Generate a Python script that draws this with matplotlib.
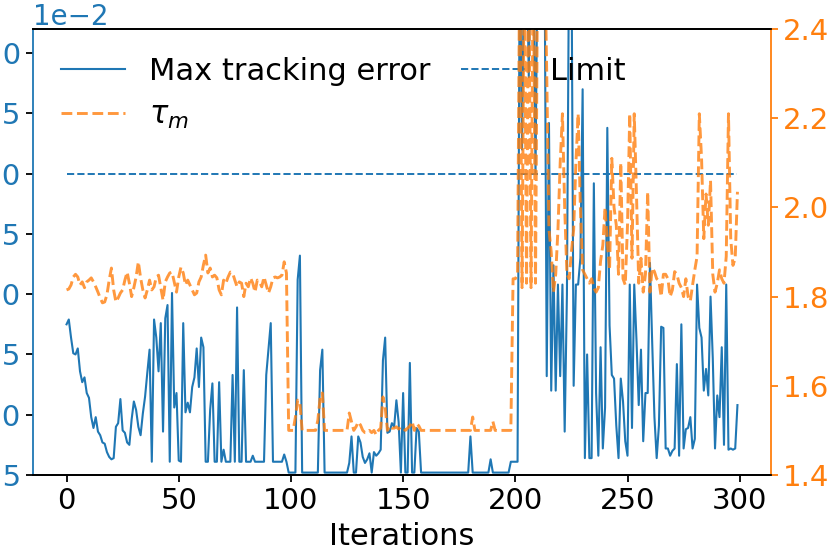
import matplotlib
matplotlib.use("Agg")
import matplotlib.pyplot as plt
import numpy as np

# max tracking error per iteration, in units of 1e-2 (values above 4.2 are off the chart)
TRACK_ERR_E2 = [
    1.75, 1.79, 1.64, 1.51, 1.50, 1.55, 1.36, 1.27, 1.31, 1.18,
    1.14, 0.98, 0.89, 0.98, 0.86, 0.83, 0.77, 0.76, 0.69, 0.65,
    0.63, 0.64, 0.90, 0.93, 1.13, 0.87, 0.85, 0.77, 0.75, 0.96,
    1.11, 1.04, 0.90, 0.83, 1.01, 1.15, 1.35, 1.54, 0.61, 1.79,
    1.64, 1.36, 1.76, 0.86, 1.80, 1.91, 0.61, 2.01, 1.06, 1.18,
    0.62, 0.61, 1.76, 1.02, 1.10, 1.02, 1.23, 1.31, 1.55, 1.23,
    1.64, 1.56, 0.61, 0.61, 1.04, 1.26, 0.61, 0.61, 1.27, 0.61,
    0.71, 0.61, 0.61, 0.61, 1.33, 0.61, 1.89, 0.61, 0.61, 1.37,
    0.61, 0.61, 0.61, 0.66, 0.61, 0.61, 0.61, 0.61, 0.61, 1.33,
    1.54, 1.76, 0.61, 0.61, 0.61, 0.61, 0.61, 0.67, 0.61, 0.52,
    0.52, 0.52, 0.52, 2.12, 2.32, 0.52, 0.52, 0.52, 0.52, 0.52,
    0.52, 0.52, 0.52, 1.37, 1.54, 0.52, 0.52, 0.52, 0.52, 0.52,
    0.52, 0.52, 0.52, 0.52, 0.52, 0.52, 0.60, 0.82, 0.52, 0.52,
    0.82, 0.77, 0.65, 0.60, 0.63, 0.68, 0.52, 0.69, 0.66, 0.68,
    0.71, 1.45, 1.64, 0.85, 0.86, 0.93, 0.90, 1.12, 0.94, 0.52,
    1.18, 0.52, 0.52, 1.43, 0.52, 0.52, 0.89, 0.86, 0.52, 0.52,
    0.52, 0.52, 0.52, 0.52, 0.52, 0.52, 0.52, 0.52, 0.52, 0.52,
    0.52, 0.52, 0.52, 0.52, 0.52, 0.52, 0.52, 0.52, 0.52, 0.52,
    0.82, 0.52, 0.52, 0.52, 0.52, 0.52, 0.52, 0.52, 0.52, 0.63,
    0.52, 0.52, 0.52, 0.52, 0.52, 0.52, 0.52, 0.52, 0.61, 0.61,
    0.61, 0.61, 5.0, 3.2, 5.0, 5.0, 3.8, 5.0, 5.0, 3.0,
    5.0, 5.0, 5.0, 5.0, 1.32, 3.42, 1.20, 2.24, 1.20, 2.08,
    1.32, 2.08, 0.86, 2.00, 5.0, 5.0, 1.24, 2.08, 2.08, 2.30,
    3.70, 0.64, 1.50, 0.64, 0.64, 2.92, 1.18, 0.66, 1.56, 0.72,
    1.06, 3.38, 1.74, 1.33, 1.30, 0.91, 0.64, 1.30, 1.11, 0.78,
    0.66, 2.08, 0.89, 2.08, 1.62, 1.08, 1.54, 0.78, 1.18, 1.18,
    2.26, 1.60, 0.98, 0.64, 0.91, 1.73, 1.72, 0.72, 0.72, 0.66,
    0.70, 0.72, 1.42, 0.66, 1.75, 0.72, 0.88, 0.89, 0.98, 0.72,
    0.80, 2.08, 1.72, 1.64, 1.20, 1.38, 1.16, 1.98, 1.47, 0.72,
    1.16, 0.98, 1.56, 0.75, 2.08, 0.71, 0.72, 0.71, 0.72, 1.08,
]

# tau_m per iteration (right axis; values above 2.4 are off the chart)
TAU_M = [
    1.815, 1.817, 1.826, 1.844, 1.85, 1.844, 1.826, 1.833, 1.82, 1.833,
    1.837, 1.842, 1.833, 1.822, 1.81, 1.797, 1.786, 1.788, 1.804, 1.837,
    1.864, 1.815, 1.788, 1.797, 1.808, 1.815, 1.837, 1.855, 1.83, 1.8,
    1.82, 1.844, 1.878, 1.842, 1.815, 1.797, 1.815, 1.837, 1.815, 1.822,
    1.844, 1.848, 1.82, 1.792, 1.833, 1.844, 1.853, 1.855, 1.833, 1.81,
    1.844, 1.866, 1.853, 1.826, 1.837, 1.826, 1.815, 1.804, 1.808, 1.833,
    1.844, 1.871, 1.893, 1.853, 1.864, 1.844, 1.848, 1.842, 1.815, 1.804,
    1.837, 1.83, 1.844, 1.855, 1.853, 1.837, 1.822, 1.833, 1.83, 1.8,
    1.83, 1.822, 1.842, 1.83, 1.81, 1.837, 1.833, 1.822, 1.844, 1.826,
    1.808, 1.822, 1.842, 1.844, 1.842, 1.844, 1.848, 1.878, 1.853, 1.5,
    1.5, 1.5, 1.53, 1.568, 1.561, 1.5, 1.5, 1.5, 1.5, 1.5,
    1.5, 1.5, 1.523, 1.573, 1.584, 1.5, 1.5, 1.5, 1.5, 1.5,
    1.5, 1.5, 1.5, 1.5, 1.5, 1.5, 1.539, 1.519, 1.5, 1.508,
    1.519, 1.512, 1.5, 1.495, 1.495, 1.5, 1.495, 1.5, 1.49, 1.5,
    1.505, 1.575, 1.552, 1.5, 1.51, 1.505, 1.505, 1.508, 1.503, 1.508,
    1.505, 1.5, 1.505, 1.51, 1.52, 1.5, 1.515, 1.51, 1.5, 1.5,
    1.5, 1.5, 1.5, 1.5, 1.5, 1.5, 1.5, 1.5, 1.5, 1.5,
    1.5, 1.5, 1.5, 1.5, 1.5, 1.5, 1.5, 1.5, 1.5, 1.5,
    1.5, 1.53, 1.5, 1.5, 1.5, 1.5, 1.5, 1.5, 1.5, 1.5,
    1.52, 1.5, 1.5, 1.5, 1.5, 1.5, 1.5, 1.5, 1.5, 1.84,
    1.84, 1.85, 2.6, 1.82, 2.6, 1.83, 2.6, 1.82, 2.6, 1.83,
    2.6, 2.6, 2.6, 2.6, 2.3, 1.95, 1.9, 1.81, 1.85, 1.95,
    2.1, 2.21, 2.0, 1.85, 1.84, 1.9, 1.95, 2.1, 2.21, 2.0,
    1.86, 1.85, 1.84, 1.83, 1.84, 1.82, 1.81, 1.82, 1.88, 1.915,
    2.0, 1.92, 1.86, 2.11, 2.0, 1.96, 1.85, 2.1, 1.84, 1.826,
    1.96, 2.21, 1.886, 2.21, 2.03, 1.83, 1.886, 1.81, 1.85, 2.035,
    1.81, 1.864, 1.856, 1.84, 1.835, 1.80, 1.85, 1.85, 1.84, 1.80,
    1.815, 1.856, 1.85, 1.83, 1.82, 1.80, 1.84, 1.80, 1.79, 1.826,
    1.86, 1.89, 2.21, 2.11, 1.93, 2.03, 1.96, 2.06, 1.85, 1.81,
    1.83, 1.86, 1.84, 1.83, 1.89, 2.21, 1.93, 1.87, 1.886, 2.035,
]

LIMIT = 0.03
ERR_YLIM = (0.005, 0.042)
ERR_TICKS = [0.005, 0.010, 0.015, 0.020, 0.025, 0.030, 0.035, 0.040]
TAU_YLIM = (1.4, 2.4)
TAU_TICKS = [1.4, 1.6, 1.8, 2.0, 2.2, 2.4]

BLUE = "tab:blue"
ORANGE = "tab:orange"
FS = 21


def main() -> None:
    err = np.array(TRACK_ERR_E2) * 1e-2
    tau = np.array(TAU_M)
    it = np.arange(len(err))

    plt.rcParams["axes.linewidth"] = 1.3
    for ax_name in ("xtick", "ytick"):
        plt.rcParams[f"{ax_name}.major.size"] = 5
        plt.rcParams[f"{ax_name}.major.width"] = 1.3

    fig = plt.figure(figsize=(8.3, 5.54), dpi=100)
    ax1 = fig.add_axes([33 / 830, 79 / 554, 738 / 830, 446 / 554])
    ax2 = ax1.twinx()

    l1, = ax1.plot(it, err, color=BLUE, lw=1.5, label="Max tracking error")
    l3, = ax1.plot(it, np.full(len(it), LIMIT), color=BLUE, lw=1.4,
                   linestyle="--", label="Limit")
    l2, = ax2.plot(it, tau, color=ORANGE, lw=2.1, linestyle="--", alpha=0.8,
                   label=r"$\tau_m$")

    ax1.set_ylim(*ERR_YLIM)
    ax1.set_yticks(ERR_TICKS)
    ax1.ticklabel_format(axis="y", style="sci", scilimits=(0, 0))
    ax1.yaxis.get_offset_text().set_color(BLUE)
    ax1.yaxis.get_offset_text().set_fontsize(FS - 1)
    ax1.tick_params(axis="y", labelcolor=BLUE, labelsize=FS)
    ax1.tick_params(axis="x", labelsize=FS)
    ax1.set_xlabel("Iterations", fontsize=FS + 1, labelpad=5)

    ax2.set_ylim(*TAU_YLIM)
    ax2.set_yticks(TAU_TICKS)
    ax2.tick_params(axis="y", colors=ORANGE, labelsize=FS)

    ax1.spines["left"].set_color(BLUE)
    ax1.spines["right"].set_visible(False)
    ax2.spines["left"].set_visible(False)
    ax2.spines["right"].set_color(ORANGE)

    ax1.legend([l1, l2, l3], [l1.get_label(), l2.get_label(), l3.get_label()],
               loc="upper left", ncol=2, fontsize=FS + 1, frameon=False,
               handlelength=2.1, handletextpad=0.8, columnspacing=1.0)

    fig.savefig("out.png", dpi=100)
    plt.close(fig)


if __name__ == "__main__":
    main()
